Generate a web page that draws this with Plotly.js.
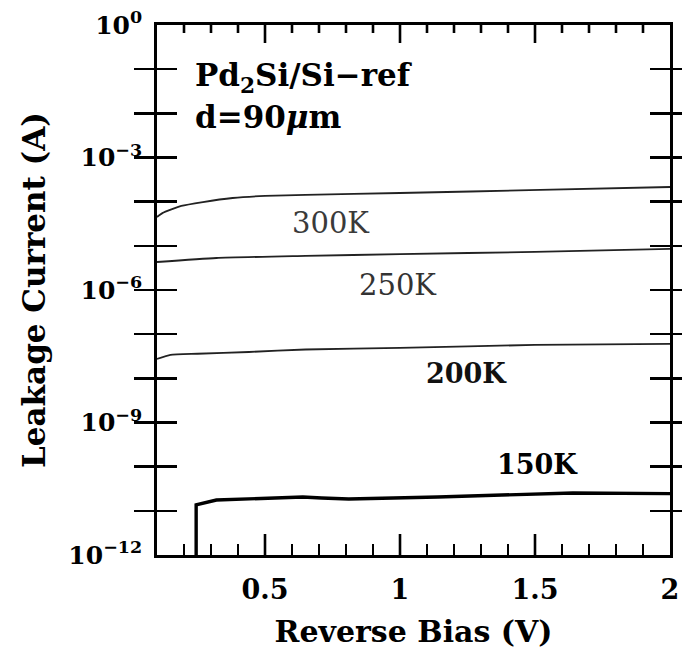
<!DOCTYPE html>
<html>
<head>
<meta charset="utf-8">
<script src="https://cdn.plot.ly/plotly-3.0.1.min.js"></script>
<style>html,body{margin:0;padding:0;background:#fff;}#chart{width:682px;height:649px;}</style>
</head>
<body>
<div id="chart"></div>
<script>
// Reverse bias (V) and leakage current (A)
const bias300 = [0.10, 0.12, 0.19, 0.27, 0.38, 0.50, 0.65, 1.00, 1.52, 2.00];
const curr300 = [4.5e-5, 5.5e-5, 8.0e-5, 9.8e-5, 1.21e-4, 1.35e-4, 1.42e-4, 1.57e-4, 1.84e-4, 2.15e-4];

const bias250 = [0.10, 0.32, 0.65, 1.00, 1.50, 2.00];
const curr250 = [4.3e-6, 5.3e-6, 5.9e-6, 6.5e-6, 7.3e-6, 8.5e-6];

const bias200 = [0.10, 0.15, 0.25, 0.44, 0.65, 1.00, 1.50, 2.00];
const curr200 = [2.74e-8, 3.4e-8, 3.6e-8, 3.95e-8, 4.5e-8, 4.9e-8, 5.7e-8, 6.0e-8];

const bias150 = [0.245, 0.245, 0.32, 0.44, 0.64, 0.71, 0.81, 1.14, 1.39, 1.64, 2.00];
const curr150 = [1.0e-12, 1.36e-11, 1.76e-11, 1.86e-11, 2.06e-11, 1.95e-11, 1.86e-11, 2.06e-11, 2.29e-11, 2.54e-11, 2.45e-11];

const xMajorVals = [0.5, 1, 1.5, 2];
const xMajorText = ['0.5', '1', '1.5', '2'];
const xMinorVals = [0.2, 0.3, 0.4, 0.6, 0.7, 0.8, 0.9, 1.1, 1.2, 1.3, 1.4, 1.6, 1.7, 1.8, 1.9];
const yTickVals = [1e0,1e-1,1e-2,1e-3,1e-4,1e-5,1e-6,1e-7,1e-8,1e-9,1e-10,1e-11,1e-12];
const yTickText = ['10<sup>0</sup>','','','10<sup>−3</sup>','','','10<sup>−6</sup>','','','10<sup>−9</sup>','','','10<sup>−12</sup>'];

const curveLabels = ['300K', '250K', '200K', '150K'];

const thin = {color: '#222', width: 1.8, shape: 'spline', smoothing: 0.5};
const traces = [
  {x: bias300, y: curr300, mode: 'lines', line: thin, name: curveLabels[0]},
  {x: bias250, y: curr250, mode: 'lines', line: thin, name: curveLabels[1]},
  {x: bias200, y: curr200, mode: 'lines', line: thin, name: curveLabels[2]},
  {x: bias150, y: curr150, xaxis: 'x2', mode: 'lines', line: {color: '#000', width: 3.4}, name: curveLabels[3]}
];

// plot-height in px for converting tick lengths to paper fraction
const plotH = 649 - 25 - 94;
const tickShape = (v, y0, len) => ({type: 'line', xref: 'x', yref: 'paper', x0: v, x1: v,
  y0: y0, y1: y0 + len / plotH * (y0 === 0 ? 1 : -1), line: {color: '#000', width: 2.6}});
const shapes = []
  .concat(xMajorVals.filter(v => v < 2).map(v => tickShape(v, 0, 21)))
  .concat(xMajorVals.filter(v => v < 2).map(v => tickShape(v, 1, 18)))
  .concat(xMinorVals.map(v => tickShape(v, 1, 8)));

const tickBase = {ticks: 'inside', tickwidth: 2.6, tickcolor: '#000', showgrid: false, zeroline: false};

const layout = {
  width: 682, height: 649,
  margin: {l: 157, r: 12, t: 25, b: 94},
  paper_bgcolor: '#fff', plot_bgcolor: '#fff',
  showlegend: false,
  font: {family: 'DejaVu Serif', color: '#000'},
  xaxis: Object.assign({}, tickBase, {
    range: [0.1, 2], tickmode: 'array', tickvals: xMinorVals, ticklen: 11,
    showticklabels: false,
    showline: true, linewidth: 2.8, linecolor: '#000', mirror: true,
    title: {text: 'Reverse Bias (V)', font: {family: 'DejaVu Serif', size: 30, weight: 'bold'}, standoff: 66}
  }),
  xaxis2: Object.assign({}, tickBase, {
    range: [0.1, 2], overlaying: 'x', anchor: 'y', side: 'bottom',
    tickmode: 'array', tickvals: xMajorVals, ticktext: xMajorText, ticklen: 21,
    showline: false,
    tickfont: {family: 'DejaVu Serif', size: 27, weight: 'bold', color: '#000'}, ticklabelstandoff: 16
  }),
  yaxis: Object.assign({}, tickBase, {
    type: 'log', range: [-12, 0], tickmode: 'array', tickvals: yTickVals, ticktext: yTickText, ticklen: 20,
    showline: true, linewidth: 2.8, linecolor: '#000', mirror: 'allticks',
    tickfont: {family: 'DejaVu Serif', size: 25, weight: 'bold', color: '#000'}, ticklabelstandoff: 7,
    title: {text: 'Leakage Current (A)', font: {family: 'DejaVu Serif', size: 31, weight: 'bold'}, standoff: 14}
  }),
  shapes: shapes,
  annotations: [
    {xref: 'paper', yref: 'paper', x: 0.07, y: 0.9, xanchor: 'left', yanchor: 'middle', showarrow: false,
     text: 'Pd<sub>2</sub>Si/Si−ref', font: {family: 'DejaVu Serif', size: 31, weight: 'bold', color: '#000'}},
    {xref: 'paper', yref: 'paper', x: 0.07, y: 0.826, xanchor: 'left', yanchor: 'middle', showarrow: false,
     text: 'd=90<i>μ</i>m', font: {family: 'DejaVu Serif', size: 31, weight: 'bold', color: '#000'}},
    {x: 0.746, y: -4.483, showarrow: false, text: curveLabels[0], font: {family: 'DejaVu Serif', size: 29, color: '#3a3a3a'}},
    {x: 0.994, y: -5.886, showarrow: false, text: curveLabels[1], font: {family: 'DejaVu Serif', size: 29, color: '#333'}},
    {x: 1.247, y: -7.9, showarrow: false, text: curveLabels[2], font: {family: 'DejaVu Serif', size: 27, weight: 'bold', color: '#111'}},
    {x: 1.510, y: -9.94, showarrow: false, text: curveLabels[3], font: {family: 'DejaVu Serif', size: 27, weight: 'bold', color: '#000'}}
  ]
};

Plotly.newPlot('chart', traces, layout, {displayModeBar: false, staticPlot: true});
</script>
</body>
</html>
